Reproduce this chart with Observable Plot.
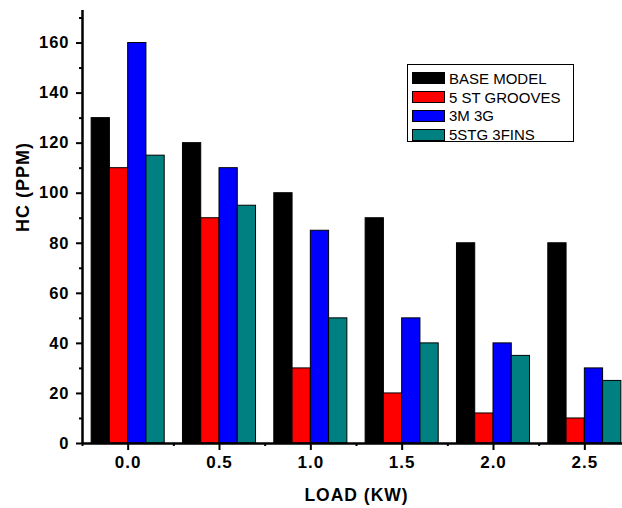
<!DOCTYPE html>
<html>
<head>
<meta charset="utf-8">
<script src="https://cdn.jsdelivr.net/npm/d3@7"></script>
<script src="https://cdn.jsdelivr.net/npm/@observablehq/plot@0.6"></script>
<style>
html, body { margin: 0; padding: 0; overflow: hidden; background: white; }
#wrap { position: relative; width: 622px; height: 508px; overflow: hidden; }
#wrap svg { max-width: none !important; width: 630px; height: 508px; display: block; }
#wrap svg text { letter-spacing: 1px; }
#legend { position: absolute; left: 407px; top: 64px; width: 167px; height: 78px; border: 1px solid #000; background: white; font-family: "Liberation Sans", Arial, sans-serif; font-size: 15px; box-sizing: border-box; padding-top: 4px; }
.row { display: flex; align-items: center; height: 18.8px; margin-left: 4px; }
.sw { width: 33px; height: 12px; border: 1px solid #000; margin-right: 4px; box-sizing: border-box; }
</style>
</head>
<body>
<div id="wrap"></div>
<script>
const loads = [0.0, 0.5, 1.0, 1.5, 2.0, 2.5];
const loadLabels = ["0.0", "0.5", "1.0", "1.5", "2.0", "2.5"];
const seriesNames = ["BASE MODEL", "5 ST GROOVES", "3M 3G", "5STG 3FINS"];
const baseModel = [130, 120, 100, 90, 80, 80];
const stGrooves = [110, 90, 30, 20, 12, 10];
const m3g = [160, 110, 85, 50, 40, 30];
const stg3fins = [115, 95, 50, 40, 35, 25];
const colors = ["#000000", "#ff0000", "#0000ff", "#008080"];
const yTicks = [0, 20, 40, 60, 80, 100, 120, 140, 160];
const yMinor = [10, 30, 50, 70, 90, 110, 130, 150, 170];
const xMinor = [-0.25, 0.25, 0.75, 1.25, 1.75, 2.25, 2.75];

const allSeries = [baseModel, stGrooves, m3g, stg3fins];
const groupW = 0.4, barW = groupW / allSeries.length;
const rows = [];
loads.forEach((l, i) => {
  allSeries.forEach((s, j) => {
    const x1 = l - groupW / 2 + j * barW;
    rows.push({x1, x2: x1 + barW, y: s[i], series: seriesNames[j], color: colors[j]});
  });
});

const font = "Liberation Sans, Arial, sans-serif";
const chart = Plot.plot({
  width: 630,
  height: 508,
  marginLeft: 82,
  marginRight: 0,
  marginTop: 10,
  marginBottom: 65,
  style: {fontFamily: font, fontWeight: "bold", fontSize: "16px", background: "white", color: "black", maxWidth: "none"},
  x: {domain: [-0.25, 2.75], axis: null},
  y: {domain: [0, 173], axis: null},
  marks: [
    Plot.rect(rows, {x1: "x1", x2: "x2", y1: 0, y2: "y", fill: "color", stroke: "#000", strokeWidth: 1}),
    Plot.axisY({ticks: yTicks, tickSize: 6, tickPadding: 7, strokeWidth: 2, label: null, fontSize: 16.5, fontWeight: "bold"}),
    Plot.axisY({ticks: yMinor, tickSize: 3, strokeWidth: 2, text: null, label: null}),
    Plot.axisX({ticks: loads, tickFormat: (d) => loadLabels[loads.indexOf(d)], tickSize: 7, tickPadding: 5, strokeWidth: 2, label: null, fontSize: 17, fontWeight: "bold"}),
    Plot.axisX({ticks: xMinor, tickSize: 3, strokeWidth: 2, text: null, label: null}),
    Plot.ruleX([-0.25], {y1: 0, y2: 173, stroke: "#000", strokeWidth: 2.5}),
    Plot.ruleY([0], {stroke: "#000", strokeWidth: 2.5}),
    Plot.text(["HC (PPM)"], {frameAnchor: "left", dx: -59, dy: 5, rotate: -90, fontSize: 18, fontWeight: "bold"}),
    Plot.text(["LOAD (KW)"], {frameAnchor: "bottom", dy: 57, fontSize: 17.5, fontWeight: "bold"})
  ]
});
chart.style.maxWidth = "none";
const wrap = document.getElementById("wrap");
wrap.appendChild(chart);

const legend = document.createElement("div");
legend.id = "legend";
seriesNames.forEach((n, j) => {
  const r = document.createElement("div");
  r.className = "row";
  const sw = document.createElement("div");
  sw.className = "sw";
  sw.style.background = colors[j];
  const t = document.createElement("span");
  t.textContent = n;
  r.appendChild(sw);
  r.appendChild(t);
  legend.appendChild(r);
});
wrap.appendChild(legend);
</script>
</body>
</html>
